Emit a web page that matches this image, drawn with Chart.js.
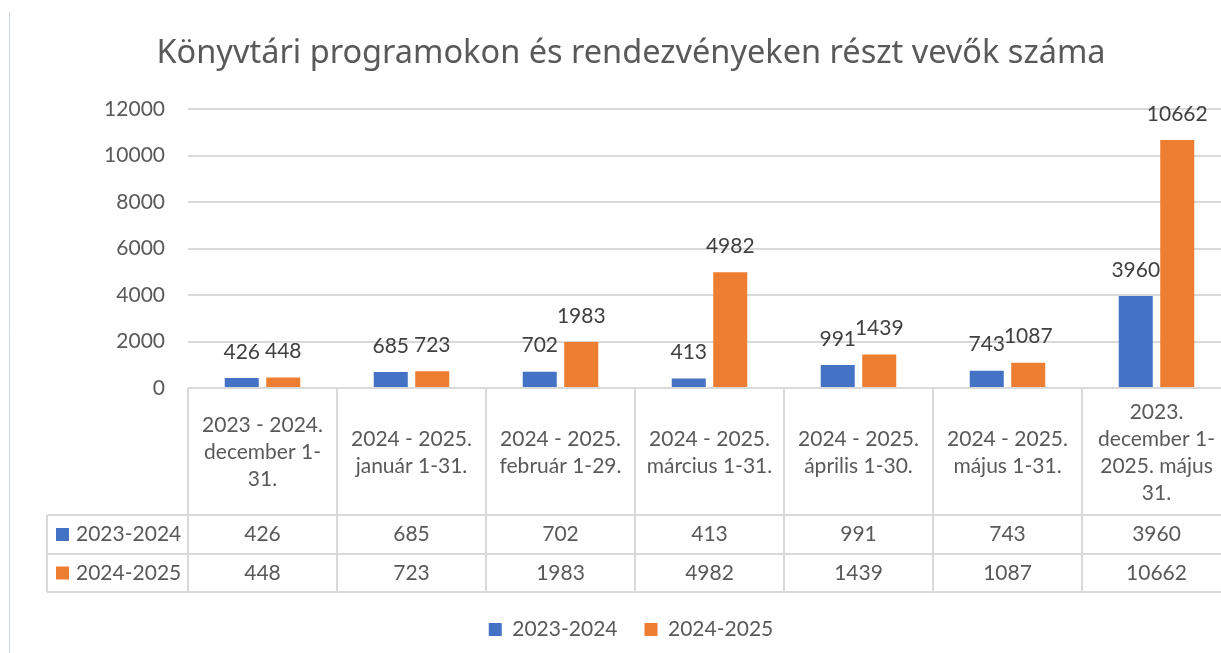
<!DOCTYPE html>
<html>
<head>
<meta charset="utf-8">
<script src="https://cdn.jsdelivr.net/npm/chart.js@4.4.1/dist/chart.umd.min.js"></script>
<style>
  html, body { margin: 0; padding: 0; background: #fff; overflow: hidden; }
  #wrap { width: 1221px; height: 653px; overflow: hidden; }
</style>
</head>
<body>
<div id="wrap"><canvas id="chart" width="1260" height="653"></canvas></div>
<script>
// data
const categories = [
  ["2023 - 2024.", "december 1-", "31."],
  ["2024 - 2025.", "január 1-31."],
  ["2024 - 2025.", "február 1-29."],
  ["2024 - 2025.", "március 1-31."],
  ["2024 - 2025.", "április 1-30."],
  ["2024 - 2025.", "május 1-31."],
  ["2023.", "december 1-", "2025. május", "31."]
];
const series1 = [426, 685, 702, 413, 991, 743, 3960];
const series2 = [448, 723, 1983, 4982, 1439, 1087, 10662];
const seriesNames = ["2023-2024", "2024-2025"];
const yTicks = [0, 2000, 4000, 6000, 8000, 10000, 12000];

const BLUE = "#4472C4";
const ORANGE = "#ED7D31";
const TEXT = "#595959";
const LINE = "#d9d9d9";
const FONT = "Lato, 'Liberation Sans', sans-serif";

// left frame line + white background
const framePlugin = {
  id: "frame",
  beforeDraw(chart) {
    const ctx = chart.ctx;
    ctx.save();
    ctx.fillStyle = "#fff";
    ctx.fillRect(0, 0, chart.width, chart.height);
    ctx.strokeStyle = "#cdd5ee";
    ctx.lineWidth = 1;
    ctx.beginPath();
    ctx.moveTo(9.5, 12);
    ctx.lineTo(9.5, chart.height);
    ctx.stroke();
    ctx.restore();
  }
};

// values above the bars
const valueLabels = {
  id: "valueLabels",
  afterDatasetsDraw(chart) {
    const ctx = chart.ctx;
    ctx.save();
    ctx.font = "21px " + FONT;
    ctx.fillStyle = "#404040";
    ctx.textAlign = "center";
    ctx.textBaseline = "middle";
    chart.data.datasets.forEach((ds, di) => {
      const meta = chart.getDatasetMeta(di);
      meta.data.forEach((bar, i) => {
        ctx.fillText(String(ds.data[i]), bar.x, bar.y - 26);
      });
    });
    ctx.restore();
  }
};

// data table under the plot
const dataTable = {
  id: "dataTable",
  afterDraw(chart) {
    const ctx = chart.ctx;
    const x = chart.scales.x;
    const top = chart.chartArea.bottom;
    const n = categories.length;
    const colW = (x.right - x.left) / n;
    const headH = 127;
    const rowH = [39, 38];
    const tableLeft = 47;
    const r1 = top + headH;
    const r2 = r1 + rowH[0];
    const r3 = r2 + rowH[1];

    ctx.save();
    ctx.strokeStyle = LINE;
    ctx.lineWidth = 2;
    ctx.beginPath();
    // horizontal lines
    ctx.moveTo(x.left, top); ctx.lineTo(x.right, top);
    [r1, r2, r3].forEach(y => { ctx.moveTo(tableLeft, y); ctx.lineTo(x.right, y); });
    // vertical lines
    ctx.moveTo(tableLeft, r1); ctx.lineTo(tableLeft, r3);
    for (let i = 0; i <= n; i++) {
      const bx = x.left + i * colW;
      ctx.moveTo(bx, top); ctx.lineTo(bx, r3);
    }
    ctx.stroke();

    ctx.font = "21px " + FONT;
    ctx.fillStyle = TEXT;
    ctx.textAlign = "center";
    ctx.textBaseline = "middle";
    const lh = 27;
    categories.forEach((lines, i) => {
      const cx = x.getPixelForValue(i);
      const startY = top + headH / 2 - (lines.length - 1) * lh / 2 + 1;
      lines.forEach((t, k) => ctx.fillText(t, cx, startY + k * lh));
    });

    const rows = [[r1, r2], [r2, r3]];
    chart.data.datasets.forEach((ds, di) => {
      const yc = (rows[di][0] + rows[di][1]) / 2;
      ds.data.forEach((v, i) => {
        ctx.fillText(String(v), x.getPixelForValue(i), yc);
      });
      ctx.fillStyle = ds.backgroundColor;
      ctx.fillRect(56, yc - 6.5, 13, 13);
      ctx.fillStyle = TEXT;
      ctx.textAlign = "left";
      ctx.fillText(ds.label, 76, yc);
      ctx.textAlign = "center";
    });
    ctx.restore();
  }
};

new Chart(document.getElementById("chart"), {
  type: "bar",
  data: {
    labels: categories,
    datasets: [
      { label: seriesNames[0], data: series1, backgroundColor: BLUE, borderWidth: 0 },
      { label: seriesNames[1], data: series2, backgroundColor: ORANGE, borderWidth: 0 }
    ]
  },
  options: {
    responsive: false,
    animation: false,
    devicePixelRatio: 1,
    categoryPercentage: 0.557,
    barPercentage: 0.82,
    layout: { padding: { left: 31, right: 29, top: 0, bottom: 3 } },
    plugins: {
      title: {
        display: true,
        text: "Könyvtári programokon és rendezvényeken részt vevők száma",
        color: TEXT,
        font: { family: "'Noto Sans', sans-serif", size: 32.5, weight: "normal" },
        padding: { top: 34, bottom: 36 }
      },
      legend: {
        position: "bottom",
        labels: {
          color: TEXT,
          font: { family: FONT, size: 21 },
          boxWidth: 13,
          boxHeight: 13,
          padding: 27
        }
      },
      tooltip: { enabled: false }
    },
    scales: {
      x: {
        grid: { display: false },
        border: { display: false },
        ticks: { display: false },
        afterFit(scale) { scale.height = 204; }
      },
      y: {
        min: 0,
        max: 12000,
        afterBuildTicks(scale) { scale.ticks = yTicks.map(v => ({ value: v })); },
        grid: { color: LINE, lineWidth: 2, drawTicks: false },
        border: { display: false },
        ticks: {
          color: TEXT,
          font: { family: FONT, size: 21 },
          padding: 23,
          callback: v => String(v)
        },
        afterFit(scale) { scale.width = 157; }
      }
    }
  },
  plugins: [framePlugin, valueLabels, dataTable]
});
</script>
</body>
</html>
